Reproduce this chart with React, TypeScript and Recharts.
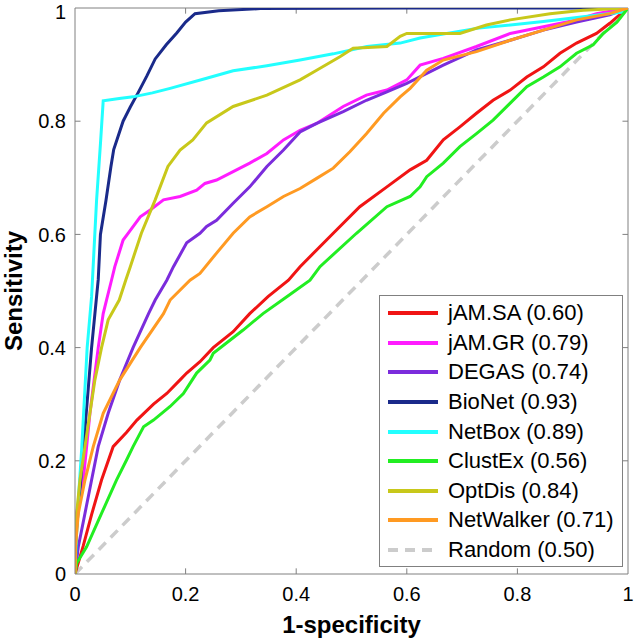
import React from 'react'
import { LineChart, Line, XAxis, YAxis, ReferenceLine } from 'recharts'

type Pt = { x: number; y: number }
const pts = (a: number[][]): Pt[] => a.map(([x, y]) => ({ x, y }))

const xTicks = [0, 0.2, 0.4, 0.6, 0.8, 1]
const yTicks = [0, 0.2, 0.4, 0.6, 0.8, 1]

const jamSA = [[0,0],[0.015,0.05],[0.03,0.105],[0.048,0.166],[0.069,0.225],[0.093,0.25],[0.112,0.272],[0.142,0.3],[0.166,0.319],[0.19,0.343],[0.202,0.355],[0.226,0.375],[0.25,0.4],[0.286,0.428],[0.316,0.46],[0.349,0.49],[0.386,0.519],[0.407,0.543],[0.467,0.602],[0.515,0.649],[0.564,0.684],[0.606,0.714],[0.636,0.731],[0.666,0.767],[0.696,0.79],[0.726,0.814],[0.756,0.837],[0.787,0.855],[0.817,0.878],[0.847,0.896],[0.877,0.92],[0.907,0.938],[0.943,0.955],[0.967,0.973],[0.992,0.994],[1,1]]
const jamGR = [[0,0],[0.001,0.1],[0.008,0.13],[0.015,0.166],[0.027,0.284],[0.042,0.4],[0.051,0.46],[0.057,0.484],[0.066,0.519],[0.072,0.543],[0.087,0.59],[0.096,0.602],[0.118,0.631],[0.136,0.643],[0.16,0.661],[0.19,0.667],[0.22,0.678],[0.235,0.69],[0.256,0.696],[0.286,0.711],[0.316,0.726],[0.347,0.743],[0.377,0.767],[0.407,0.784],[0.437,0.796],[0.485,0.826],[0.527,0.846],[0.564,0.855],[0.6,0.873],[0.624,0.899],[0.666,0.911],[0.726,0.932],[0.787,0.955],[0.847,0.967],[0.907,0.979],[0.943,0.99],[1,1]]
const degas = [[0,0],[0.006,0.048],[0.018,0.107],[0.03,0.166],[0.042,0.225],[0.06,0.284],[0.081,0.343],[0.105,0.4],[0.133,0.46],[0.145,0.484],[0.166,0.519],[0.178,0.543],[0.202,0.585],[0.226,0.602],[0.238,0.614],[0.256,0.625],[0.286,0.655],[0.316,0.684],[0.347,0.72],[0.377,0.749],[0.407,0.781],[0.437,0.796],[0.485,0.817],[0.527,0.837],[0.564,0.852],[0.6,0.867],[0.666,0.899],[0.726,0.926],[0.787,0.943],[0.847,0.961],[0.907,0.975],[0.967,0.988],[1,1]]
const bioNet = [[0,0],[0.003,0.08],[0.015,0.22],[0.03,0.4],[0.042,0.52],[0.046,0.6],[0.056,0.66],[0.065,0.72],[0.07,0.75],[0.087,0.8],[0.1,0.825],[0.114,0.85],[0.13,0.88],[0.145,0.91],[0.165,0.935],[0.184,0.956],[0.2,0.975],[0.217,0.99],[0.26,0.995],[0.335,0.999],[0.6,1],[1,1]]
const netBox = [[0,0],[0.004,0.1],[0.012,0.22],[0.022,0.4],[0.03,0.49],[0.039,0.66],[0.046,0.76],[0.051,0.836],[0.08,0.84],[0.105,0.843],[0.14,0.85],[0.172,0.858],[0.238,0.876],[0.286,0.889],[0.347,0.898],[0.407,0.908],[0.467,0.919],[0.528,0.932],[0.588,0.938],[0.624,0.947],[0.726,0.964],[0.847,0.976],[0.991,0.993],[1,1]]
const clustEx = [[0,0],[0.003,0.019],[0.021,0.048],[0.048,0.107],[0.075,0.166],[0.093,0.201],[0.105,0.225],[0.124,0.26],[0.142,0.272],[0.172,0.296],[0.196,0.319],[0.22,0.355],[0.244,0.378],[0.25,0.39],[0.304,0.431],[0.34,0.46],[0.383,0.49],[0.425,0.519],[0.443,0.543],[0.509,0.602],[0.564,0.649],[0.606,0.667],[0.624,0.684],[0.636,0.702],[0.666,0.726],[0.696,0.755],[0.726,0.778],[0.756,0.802],[0.787,0.832],[0.817,0.861],[0.847,0.878],[0.877,0.896],[0.907,0.92],[0.937,0.935],[0.955,0.955],[0.98,0.975],[1,1]]
const optDis = [[0,0],[0.001,0.05],[0.003,0.107],[0.009,0.166],[0.018,0.225],[0.027,0.284],[0.036,0.343],[0.048,0.4],[0.06,0.449],[0.08,0.484],[0.092,0.52],[0.1,0.543],[0.12,0.602],[0.145,0.661],[0.168,0.72],[0.19,0.749],[0.213,0.767],[0.238,0.797],[0.286,0.826],[0.347,0.846],[0.407,0.873],[0.437,0.89],[0.479,0.914],[0.503,0.929],[0.564,0.932],[0.588,0.95],[0.6,0.955],[0.696,0.955],[0.744,0.97],[0.787,0.979],[0.859,0.99],[0.919,0.996],[1,1]]
const netWalker = [[0,0],[0.001,0.05],[0.006,0.107],[0.018,0.166],[0.033,0.225],[0.051,0.284],[0.081,0.343],[0.118,0.4],[0.16,0.46],[0.172,0.484],[0.208,0.519],[0.226,0.531],[0.256,0.567],[0.286,0.602],[0.316,0.631],[0.347,0.649],[0.377,0.667],[0.407,0.681],[0.437,0.699],[0.467,0.717],[0.497,0.746],[0.527,0.778],[0.558,0.814],[0.588,0.843],[0.606,0.858],[0.636,0.89],[0.666,0.908],[0.726,0.923],[0.787,0.943],[0.847,0.961],[0.907,0.979],[0.967,0.99],[1,1]]
const random = [[0,0],[1,1]]

const series = [
  { name: 'jAM.SA (0.60)', data: jamSA, color: '#f01414' },
  { name: 'jAM.GR (0.79)', data: jamGR, color: '#ff1cff' },
  { name: 'DEGAS (0.74)', data: degas, color: '#7b2cdc' },
  { name: 'BioNet (0.93)', data: bioNet, color: '#1a2a8a' },
  { name: 'NetBox (0.89)', data: netBox, color: '#22ffff' },
  { name: 'ClustEx (0.56)', data: clustEx, color: '#22ee22' },
  { name: 'OptDis (0.84)', data: optDis, color: '#c8c81a' },
  { name: 'NetWalker (0.71)', data: netWalker, color: '#ff9a22' },
  { name: 'Random (0.50)', data: random, color: '#cccccc', dash: '10 7' },
]

const font = '"Liberation Sans", Arial, sans-serif'
const axisColor = '#808080'
const tk = 0.01

const XTitle = (props: any) => {
  const vb = props.viewBox || { x: 75, width: 553 }
  return (
    <text x={vb.x + vb.width / 2} y={633} textAnchor="middle" fontSize={24} fontWeight="bold" fontFamily={font} fill="#000">
      1-specificity
    </text>
  )
}

const YTitle = (props: any) => {
  const vb = props.viewBox || { y: 8, height: 566 }
  const cx = 22
  const cy = vb.y + vb.height / 2
  return (
    <text x={cx} y={cy} transform={`rotate(-90 ${cx} ${cy})`} textAnchor="middle" fontSize={24} fontWeight="bold" fontFamily={font} fill="#000">
      Sensitivity
    </text>
  )
}

export default function App() {
  return (
    <div style={{ position: 'absolute', left: 0, top: 0, width: 634, height: 641, background: '#fff', fontFamily: font }}>
      <LineChart width={634} height={641} margin={{ top: 8, right: 6, left: 0, bottom: 0 }}>
        <XAxis type="number" dataKey="x" domain={[0, 1]} ticks={xTicks} height={67} stroke={axisColor}
          tickLine={false} tickSize={0} tickMargin={13} tick={{ fontSize: 20, fill: '#000', fontFamily: font }}
          allowDataOverflow label={{ content: XTitle }} />
        <YAxis type="number" dataKey="y" domain={[0, 1]} ticks={yTicks} width={75} stroke={axisColor}
          tickLine={false} tickSize={0} tickMargin={9} tick={{ fontSize: 20, fill: '#000', fontFamily: font }}
          allowDataOverflow label={{ content: YTitle }} />
        <ReferenceLine y={1} stroke={axisColor} />
        <ReferenceLine x={1} stroke={axisColor} />
        {xTicks.slice(1, -1).map((t) => (
          <ReferenceLine key={'b' + t} segment={[{ x: t, y: 0 }, { x: t, y: tk }]} stroke={axisColor} />
        ))}
        {xTicks.slice(1, -1).map((t) => (
          <ReferenceLine key={'t' + t} segment={[{ x: t, y: 1 }, { x: t, y: 1 - tk }]} stroke={axisColor} />
        ))}
        {yTicks.slice(1, -1).map((t) => (
          <ReferenceLine key={'l' + t} segment={[{ x: 0, y: t }, { x: tk, y: t }]} stroke={axisColor} />
        ))}
        {yTicks.slice(1, -1).map((t) => (
          <ReferenceLine key={'r' + t} segment={[{ x: 1, y: t }, { x: 1 - tk, y: t }]} stroke={axisColor} />
        ))}
        {[series[8], ...series.slice(0, 8)].map((s) => (
          <Line key={s.name} data={pts(s.data)} dataKey="y" name={s.name} type="linear" stroke={s.color}
            strokeWidth={s.dash ? 3.5 : 3} strokeDasharray={s.dash} dot={false} activeDot={false} isAnimationActive={false} />
        ))}
      </LineChart>
      <div style={{ position: 'absolute', left: 379, top: 295, width: 244, height: 272, boxSizing: 'border-box',
        border: '1px solid ' + axisColor, background: '#fff', paddingTop: 2.5 }}>
        {series.map((s) => (
          <div key={s.name} style={{ display: 'flex', alignItems: 'center', height: 29.6 }}>
            <svg width={50} height={6} style={{ marginLeft: 8 }}>
              <line x1={0} y1={3} x2={50} y2={3} stroke={s.color} strokeWidth={4} strokeDasharray={s.dash} />
            </svg>
            <span style={{ marginLeft: 10, fontSize: 22, color: '#000', whiteSpace: 'nowrap' }}>{s.name}</span>
          </div>
        ))}
      </div>
    </div>
  )
}
